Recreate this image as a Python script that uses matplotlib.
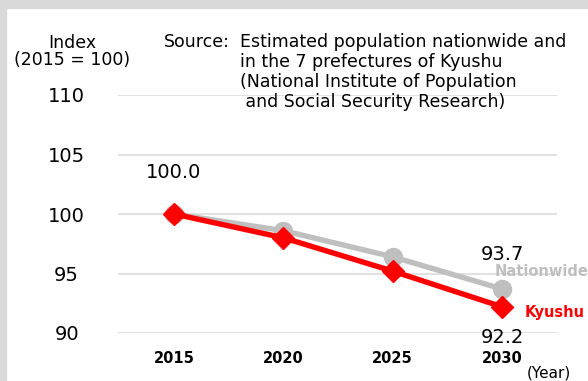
import matplotlib
matplotlib.use("Agg")
import matplotlib.pyplot as plt
from matplotlib.patches import Rectangle

# Population index, 2015 = 100
years = [2015, 2020, 2025, 2030]
nationwide = [100.0, 98.6, 96.4, 93.7]
kyushu = [100.0, 98.0, 95.2, 92.2]
y_ticks = [90, 95, 100, 105, 110]

W, H = 588, 381
fig = plt.figure(figsize=(W / 100, H / 100), dpi=100)
fig.patch.set_facecolor("white")


def fx(x):
    return x / W


def fy(y):
    return 1 - y / H


# grey frame along the top and left edges
fig.patches.append(Rectangle((0, fy(8)), 1, 8 / H, transform=fig.transFigure,
                             color="#d9d9d9", zorder=0))
fig.patches.append(Rectangle((0, 0), 6 / W, 1, transform=fig.transFigure,
                             color="#d9d9d9", zorder=0))

ax = fig.add_axes([fx(118), fy(333), (557 - 118) / W, (333 - 95) / H])
ax.set_facecolor("none")
ax.set_xlim(2012.44, 2032.51)
ax.set_ylim(90, 110)

for v in y_ticks:
    ax.axhline(v, color="#d9d9d9", lw=1.1, zorder=1)

ax.plot(years, nationwide, color="#bfbfbf", lw=3.9, marker="o", ms=13,
        zorder=3, clip_on=False)
ax.plot(years, kyushu, color="#ff0000", lw=3.9, marker="D", ms=11.5,
        zorder=4, clip_on=False)

for s in ax.spines.values():
    s.set_visible(False)

ax.set_yticks(y_ticks)
ax.set_yticklabels([str(v) for v in y_ticks], fontsize=14, ha="center")
ax.tick_params(axis="y", length=0, pad=37)
ax.set_xticks(years)
ax.set_xticklabels([str(y) for y in years], fontsize=10.5, fontweight="bold")
ax.tick_params(axis="x", length=0, pad=13)

# value labels
ax.annotate(f"{kyushu[0]:.1f}", (years[0], kyushu[0]), xytext=(0, 30),
            textcoords="offset points", ha="center", va="center", fontsize=14)
ax.annotate(f"{nationwide[-1]:.1f}", (years[-1], nationwide[-1]), xytext=(0, 25),
            textcoords="offset points", ha="center", va="center", fontsize=14)
ax.annotate(f"{kyushu[-1]:.1f}", (years[-1], kyushu[-1]), xytext=(0, -22),
            textcoords="offset points", ha="center", va="center", fontsize=14)

# series names
fig.text(fx(495), fy(272), "Nationwide", color="#bfbfbf", fontsize=10.5,
         fontweight="bold", va="center", ha="left")
fig.text(fx(525), fy(313), "Kyushu", color="#ff0000", fontsize=10.5,
         fontweight="bold", va="center", ha="left")

fig.text(fx(72), fy(43), "Index", fontsize=12.5, ha="center", va="center")
fig.text(fx(72), fy(60), "(2015 = 100)", fontsize=12.5, ha="center", va="center")
fig.text(fx(549), fy(373), "(Year)", fontsize=11, ha="center", va="center")

fig.text(fx(164), fy(42), "Source:", fontsize=12.5, ha="left", va="center")
src = ["Estimated population nationwide and",
       "in the 7 prefectures of Kyushu",
       "(National Institute of Population",
       " and Social Security Research)"]
for i, line in enumerate(src):
    fig.text(fx(240), fy(42 + 20 * i), line, fontsize=12.5, ha="left",
             va="center")

fig.savefig("out.png", dpi=100)
